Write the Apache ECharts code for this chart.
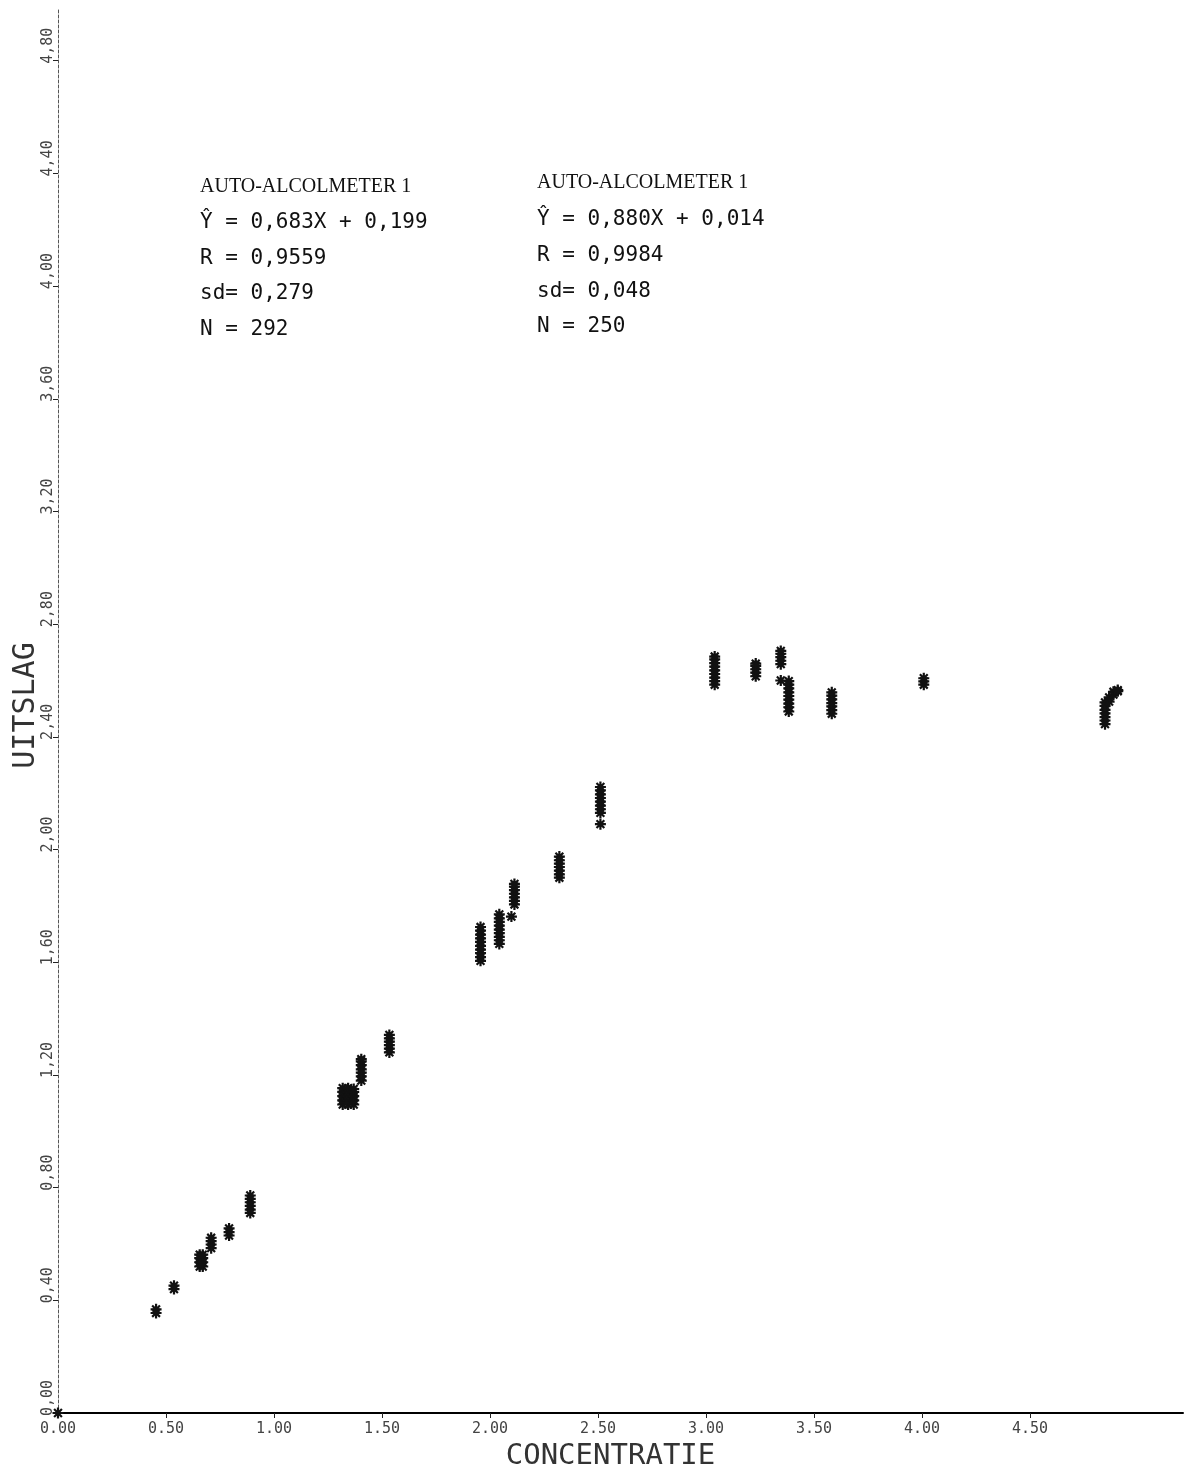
<!DOCTYPE html>
<html>
<head>
<meta charset="utf-8">
<script src="https://cdn.jsdelivr.net/npm/echarts@6/dist/echarts.min.js"></script>
<style>
html,body{margin:0;padding:0;background:#fff;}
#chart{width:1185px;height:1470px;}
</style>
</head>
<body>
<div id="chart"></div>
<script>
// ---- data ----
// x position of each cluster of measurements (CONCENTRATIE)
const clusterX = [
  0.00,
  0.454, 0.537, 0.656, 0.670, 0.709, 0.792, 0.890,
  1.318, 1.343, 1.369, 1.404, 1.534,
  1.956, 2.043, 2.113, 2.099, 2.321, 2.511,
  3.040, 3.230, 3.346, 3.346, 3.383, 3.582, 4.008,
  4.847, 4.866, 4.886, 4.906
];
// measured values (UITSLAG) belonging to each cluster above
const clusterY = [
  [0.00],
  [0.355, 0.368],
  [0.44, 0.452],
  [0.52, 0.535, 0.55, 0.562],
  [0.52, 0.535, 0.55, 0.562],
  [0.585, 0.598, 0.61, 0.622],
  [0.63, 0.642, 0.655],
  [0.71, 0.722, 0.735, 0.748, 0.76, 0.772],
  [1.095, 1.11, 1.125, 1.14, 1.153],
  [1.095, 1.11, 1.125, 1.14, 1.153],
  [1.095, 1.11, 1.125, 1.14, 1.15],
  [1.18, 1.195, 1.208, 1.22, 1.235, 1.248, 1.256],
  [1.28, 1.293, 1.306, 1.318, 1.33, 1.342],
  [1.605, 1.618, 1.632, 1.645, 1.658, 1.672, 1.685, 1.698, 1.712, 1.725],
  [1.665, 1.678, 1.69, 1.703, 1.716, 1.73, 1.743, 1.756, 1.77],
  [1.805, 1.818, 1.83, 1.843, 1.856, 1.868, 1.878],
  [1.762],
  [1.9, 1.912, 1.925, 1.938, 1.95, 1.962, 1.975],
  [2.09, 2.13, 2.143, 2.156, 2.17, 2.183, 2.196, 2.21, 2.222],
  [2.585, 2.598, 2.61, 2.623, 2.636, 2.649, 2.662, 2.675, 2.685],
  [2.615, 2.628, 2.64, 2.652, 2.66],
  [2.658, 2.67, 2.683, 2.695, 2.705],
  [2.60],
  [2.49, 2.505, 2.518, 2.532, 2.545, 2.558, 2.572, 2.585, 2.598],
  [2.482, 2.495, 2.508, 2.52, 2.533, 2.546, 2.558],
  [2.585, 2.597, 2.608],
  [2.445, 2.458, 2.47, 2.483, 2.496, 2.51, 2.522],
  [2.525, 2.54],
  [2.55, 2.56],
  [2.562, 2.566]
];
const xTicks = [0, 0.5, 1.0, 1.5, 2.0, 2.5, 3.0, 3.5, 4.0, 4.5];
const yTicks = [0, 0.4, 0.8, 1.2, 1.6, 2.0, 2.4, 2.8, 3.2, 3.6, 4.0, 4.4, 4.8];
const xAxisName = 'CONCENTRATIE';
const yAxisName = 'UITSLAG';
const annotationLeft = ['AUTO-ALCOLMETER 1', 'Ŷ = 0,683X + 0,199', 'R = 0,9559', 'sd= 0,279', 'N = 292'];
const annotationRight = ['AUTO-ALCOLMETER 1', 'Ŷ = 0,880X + 0,014', 'R = 0,9984', 'sd= 0,048', 'N = 250'];

// ---- build ----
const points = [];
clusterX.forEach((x, i) => clusterY[i].forEach(y => points.push([x, y])));

const star = 'path://M8,0h4v20h-4z M0,8h20v4h-20z M1.5,4.3L4.3,1.5L18.5,15.7L15.7,18.5Z M15.7,1.5L18.5,4.3L4.3,18.5L1.5,15.7Z';
const axisFont = '"DejaVu Sans Mono", monospace';

function block(lines, x, ys, first) {
  return lines.map((t, i) => ({
    type: 'text',
    left: x,
    top: ys[i],
    style: {
      text: t,
      fill: '#111',
      font: i === 0 ? first : '21px "DejaVu Sans Mono", monospace',
      textVerticalAlign: 'middle'
    }
  }));
}

const chart = echarts.init(document.getElementById('chart'), null, {renderer: 'canvas'});
chart.setOption({
  animation: false,
  backgroundColor: '#ffffff',
  grid: {left: 58, right: 2, top: 8, bottom: 57, containLabel: false, outerBoundsMode: 'none'},
  xAxis: {
    type: 'value',
    min: 0,
    max: 5.208,
    name: xAxisName,
    nameLocation: 'middle',
    nameGap: 29,
    nameMoveOverlap: false,
    nameTextStyle: {fontFamily: axisFont, fontSize: 29, color: '#333', padding: [0, 20, 0, 0]},
    axisLine: {show: true, onZero: false, lineStyle: {color: '#000', width: 2}},
    axisTick: {show: true, length: 5, customValues: xTicks, lineStyle: {color: '#222', width: 1}},
    axisLabel: {
      customValues: xTicks,
      fontFamily: axisFont, fontSize: 15, color: '#444', margin: 9,
      formatter: v => v.toFixed(2)
    },
    splitLine: {show: false}
  },
  yAxis: {
    type: 'value',
    min: 0,
    max: 4.987,
    name: yAxisName,
    nameLocation: 'middle',
    nameGap: 17,
    nameRotate: 90,
    nameMoveOverlap: false,
    nameTextStyle: {fontFamily: axisFont, fontSize: 30, color: '#333', padding: [0, 0, 0, 10]},
    axisLine: {show: true, onZero: false, lineStyle: {color: '#555', width: 1, type: [3, 2]}},
    axisTick: {show: true, length: 5, customValues: yTicks, lineStyle: {color: '#222', width: 1}},
    axisLabel: {
      customValues: yTicks,
      rotate: 90,
      align: 'center',
      verticalAlign: 'bottom',
      padding: [0, 0, 0, 30],
      fontFamily: axisFont, fontSize: 15, color: '#444', margin: 2,
      formatter: v => v.toFixed(2).replace('.', ',')
    },
    splitLine: {show: false}
  },
  graphic: [].concat(
    block(annotationLeft, 200, [177, 212, 248, 283, 319], '20px "Liberation Serif", serif'),
    block(annotationRight, 537, [173, 209, 245, 281, 316], '20px "Liberation Serif", serif')
  ),
  series: [{
    type: 'scatter',
    data: points,
    symbol: star,
    symbolSize: 11,
    itemStyle: {color: '#111', opacity: 1},
    emphasis: {disabled: true}
  }]
});
</script>
</body>
</html>
